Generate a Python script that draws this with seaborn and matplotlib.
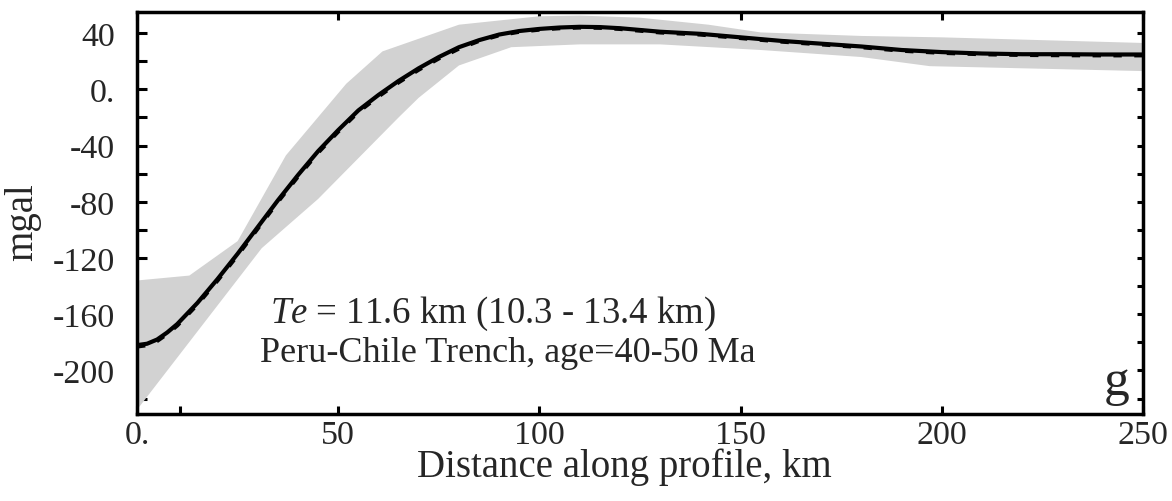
import numpy as np
import pandas as pd
import matplotlib
matplotlib.use("Agg")
import matplotlib.pyplot as plt
import seaborn as sns

# ---- data ----
dist_km = [0, 2.5, 5, 7.5, 10, 15, 20, 25, 30, 35, 40, 45, 50, 55, 60, 65, 70, 75,
           80, 85, 90, 95, 100, 105, 110, 115, 120, 130, 140, 150, 160, 170, 180,
           190, 200, 210, 220, 230, 240, 250]
observed = [-182, -181, -178, -173, -167, -152, -135, -117, -98, -79, -61, -44, -29,
            -15, -4, 6, 15, 23, 30, 35, 39, 41.5, 43, 44, 44.5, 44.3, 43.5, 41,
            39.5, 37, 34.5, 32.5, 30.5, 28, 26.5, 25.5, 25, 25, 24.8, 24.8]
model = [-183, -182, -179, -174, -168, -153, -136, -118, -99, -80, -62, -45, -30,
         -16, -5, 5, 14, 22, 29, 34.5, 38.5, 41, 42.5, 43.5, 44, 43.8, 43, 40.5,
         39, 36.5, 34, 32, 30, 27.5, 26, 25, 24.5, 24.3, 24.2, 24.2]

upper_x = [0, 13, 25, 37, 52, 61, 80, 100, 110, 125, 142, 155, 180, 200, 250]
upper_y = [-136, -132.5, -108, -47, 4, 27, 46, 52, 52.5, 51, 46, 40.5, 38, 37, 33]
lower_x = [0, 31, 45, 65, 70, 80, 93, 110, 130, 155, 180, 197, 250]
lower_y = [-228, -113, -78, -20, -6, 17, 30, 32, 32, 28, 23, 16.5, 13]

x_ticks = [0, 50, 100, 150, 200, 250]
x_ticklabels = ["0.", "50", "100", "150", "200", "250"]
y_ticks = [40, 0, -40, -80, -120, -160, -200]
y_ticklabels = ["40", "0.", "-40", "-80", "-120", "-160", "-200"]
y_minor = [20, -20, -60, -100, -140, -180, -220]

label_1 = "$Te$ = 11.6 km (10.3 - 13.4 km)"
label_2 = "Peru-Chile Trench, age=40-50 Ma"
panel = "g"
xlabel = "Distance along profile, km"
ylabel = "mgal"

# ---- style ----
sns.set_style("ticks")
plt.rcParams["font.family"] = ["Liberation Serif", "DejaVu Serif"]
plt.rcParams["mathtext.fontset"] = "custom"
plt.rcParams["mathtext.it"] = "Liberation Serif:italic"
plt.rcParams["mathtext.rm"] = "Liberation Serif"

fig = plt.figure(figsize=(11.72, 5.02), dpi=100)
ax = fig.add_axes([0.1169, 0.1733, 0.8584, 0.8007])

# uncertainty band
poly_x = upper_x + lower_x[::-1]
poly_y = upper_y + lower_y[::-1]
ax.fill(poly_x, poly_y, color="#d2d2d2", lw=0, zorder=1)

df = pd.DataFrame({"x": dist_km, "obs": observed, "mod": model})
sns.lineplot(data=df, x="x", y="obs", ax=ax, color="black", lw=3.0, zorder=3)
sns.lineplot(data=df, x="x", y="mod", ax=ax, color="black", lw=3.0,
             linestyle=(0, (2, 3)), zorder=4)

ax.set_xlim(0, 250)
ax.set_ylim(-231, 55)

ax.set_xticks(x_ticks)
ax.set_xticklabels(x_ticklabels)
ax.set_xticks([10.7], minor=True)
ax.set_yticks(y_ticks)
ax.set_yticklabels(y_ticklabels)
ax.set_yticks(y_minor, minor=True)

for s in ax.spines.values():
    s.set_linewidth(2.5)
    s.set_color("black")

ax.tick_params(axis="both", which="both", direction="in", width=2.2, color="black")
ax.tick_params(axis="y", which="both", left=True, right=True, length=7, labelsize=24.5,
               pad=16)
ax.tick_params(axis="x", which="major", top=True, bottom=True, length=5.5,
               labelsize=24.5, pad=4)
ax.tick_params(axis="x", which="minor", top=False, bottom=True, length=6)
# right-hand ticks are shorter
for t in ax.yaxis.get_major_ticks() + ax.yaxis.get_minor_ticks():
    t.tick2line.set_markersize(4.5)

ax.set_xlabel(xlabel, fontsize=28, labelpad=-2, x=0.484)
ax.set_ylabel(ylabel, fontsize=28, labelpad=8, y=0.48)

ax.text(0.132, 0.229, label_1, transform=ax.transAxes, fontsize=26.5, va="baseline",
        ha="left")
ax.text(0.122, 0.132, label_2, transform=ax.transAxes, fontsize=26, va="baseline",
        ha="left")
ax.text(0.987, 0.05, panel, transform=ax.transAxes, fontsize=37, va="baseline",
        ha="right")

fig.savefig("out.png", dpi=100)
